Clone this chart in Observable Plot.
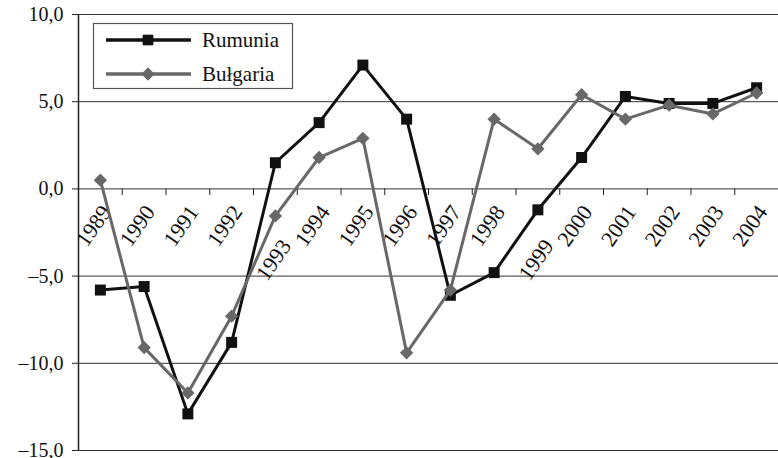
<!DOCTYPE html>
<html>
<head>
<meta charset="utf-8">
<script src="https://cdn.jsdelivr.net/npm/d3@7"></script>
<script src="https://cdn.jsdelivr.net/npm/@observablehq/plot@0.6"></script>
<style>
  html, body { margin: 0; padding: 0; background: #fff; }
  #chart svg { display: block; }
</style>
</head>
<body>
<div id="chart"></div>
<script>
const years = [1989,1990,1991,1992,1993,1994,1995,1996,1997,1998,1999,2000,2001,2002,2003,2004];
const rumunia = [-5.8,-5.6,-12.9,-8.8,1.5,3.8,7.1,4.0,-6.1,-4.8,-1.2,1.8,5.3,4.9,4.9,5.8];
const bulgaria = [0.5,-9.1,-11.7,-7.3,-1.55,1.8,2.9,-9.4,-5.8,4.0,2.3,5.4,4.0,4.8,4.3,5.5];
const seriesNames = ["Rumunia", "Bułgaria"];
const yTicks = [-15, -10, -5, 0, 5, 10];

const fmt = v => (v < 0 ? "–" : "") + Math.abs(v).toFixed(1).replace(".", ",");

const rows = [];
years.forEach((yr, i) => {
  rows.push({year: yr, value: rumunia[i], series: seriesNames[0]});
});
years.forEach((yr, i) => {
  rows.push({year: yr, value: bulgaria[i], series: seriesNames[1]});
});
const rowsR = rows.filter(d => d.series === seriesNames[0]);
const rowsB = rows.filter(d => d.series === seriesNames[1]);
const bounds = years.slice(0, -1).map(y => y + 0.5);
const shifted = new Set([1993, 1999]);
const labNormal = years.filter(y => !shifted.has(y));
const labShift = years.filter(y => shifted.has(y));

const FONT = "'Liberation Serif', 'DejaVu Serif', serif";
const BLACK = "#111";
const GRAY = "#686868";

const chart = Plot.plot({
  width: 778,
  height: 458,
  marginLeft: 78,
  marginRight: 0,
  marginTop: 14,
  marginBottom: 8,
  style: {fontFamily: FONT, fontSize: "20px", color: "#111", background: "#fff", overflow: "visible"},
  x: {type: "linear", domain: [years[0] - 0.5, years[years.length - 1] + 0.5], axis: null},
  y: {domain: [-15, 10], axis: null},
  marks: [
    Plot.ruleY(yTicks, {stroke: "#333", strokeWidth: 1}),
    Plot.axisY({ticks: yTicks, tickFormat: fmt, tickSize: 6, tickPadding: 9, stroke: "#222", label: null, fontSize: 20}),
    Plot.ruleX([years[0] - 0.5], {stroke: "#222", strokeWidth: 1.5}),
    Plot.ruleX(bounds, {y1: 0, y2: -0.38, stroke: "#222", strokeWidth: 1}),
    Plot.text(labNormal, {x: d => d, y: () => 0, text: d => String(d), rotate: -55, textAnchor: "end", dx: 6, dy: 19, fontSize: 22, fill: "#111"}),
    Plot.text(labShift, {x: d => d, y: () => 0, text: d => String(d), rotate: -55, textAnchor: "end", dx: 11, dy: 53, fontSize: 22, fill: "#111"}),
    Plot.line(rowsR, {x: "year", y: "value", stroke: BLACK, strokeWidth: 3}),
    Plot.dot(rowsR, {x: "year", y: "value", symbol: "square", r: 6.2, fill: BLACK, stroke: "none"}),
    Plot.line(rowsB, {x: "year", y: "value", stroke: GRAY, strokeWidth: 3}),
    Plot.dot(rowsB, {x: "year", y: "value", symbol: "diamond2", r: 6, fill: GRAY, stroke: "none"})
  ]
});

// legend box inside the plot area
const svg = d3.select(chart);
const lg = svg.append("g").attr("font-family", FONT).attr("font-size", 21).attr("text-anchor", "start");
lg.append("rect").attr("x", 93.5).attr("y", 23.5).attr("width", 199).attr("height", 65)
  .attr("fill", "#fff").attr("stroke", "#555").attr("stroke-width", 1.2);
const items = [
  {name: seriesNames[0], color: BLACK, sym: d3.symbolSquare, y: 40},
  {name: seriesNames[1], color: GRAY, sym: d3.symbolDiamond2, y: 74}
];
items.forEach(it => {
  lg.append("line").attr("x1", 106).attr("x2", 191).attr("y1", it.y).attr("y2", it.y)
    .attr("stroke", it.color).attr("stroke-width", 3.5);
  lg.append("path").attr("d", d3.symbol(it.sym, Math.PI * 36)())
    .attr("transform", `translate(148,${it.y})`).attr("fill", it.color);
  lg.append("text").attr("x", 202).attr("y", it.y + 7).attr("text-anchor", "start").attr("fill", "#111").text(it.name);
});

document.getElementById("chart").appendChild(chart);
</script>
</body>
</html>
